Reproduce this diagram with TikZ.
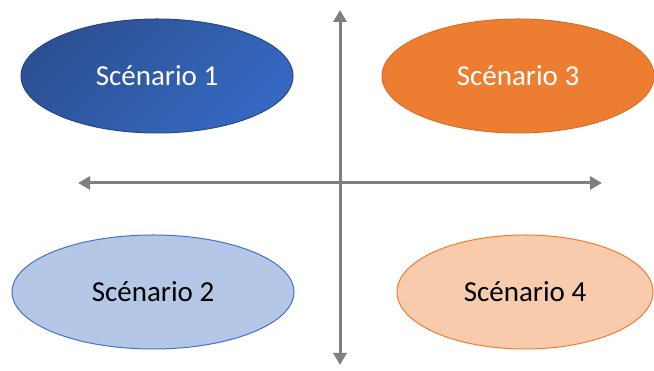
\documentclass[tikz,border=0pt]{standalone}
\usepackage{fontspec}
\setmainfont{Carlito}
\usetikzlibrary{arrows.meta,shapes.geometric}
\definecolor{darkblue}{HTML}{2C5193}
\definecolor{midblue}{HTML}{3668C2}
\definecolor{lightblue}{HTML}{B4C7E7}
\definecolor{lineblue}{HTML}{4472C4}
\definecolor{heavyorange}{HTML}{ED7D31}
\definecolor{lightorange}{HTML}{F8CBAD}
\definecolor{axisgray}{HTML}{7F7F7F}

\begin{document}
\begin{tikzpicture}[x=1pt, y=1pt,
  scenario/.style={ellipse, inner sep=0pt, line width=1pt,
    minimum width=272pt, minimum height=114pt,
    font=\fontsize{29}{34}\selectfont},
  axis/.style={draw=axisgray, line width=3pt,
    -{Triangle[length=12pt, width=13pt]}}]
  \useasboundingbox (0,0) rectangle (654,371);
  % upper scenarios
  \node[scenario, draw=darkblue!90!black, top color=darkblue,
    bottom color=midblue, shading angle=45, text=white]
    (s1) at (157,295) {Scénario 1};
  \node[scenario, draw=heavyorange!90!black, fill=heavyorange, text=white]
    (s3) at (518,295) {Scénario 3};
  % lower scenarios
  \node[scenario, draw=lineblue, fill=lightblue, minimum width=282pt]
    (s2) at (153,79) {Scénario 2};
  \node[scenario, draw=heavyorange, fill=lightorange, minimum width=256pt]
    (s4) at (525,79) {Scénario 4};
  % axes
  \coordinate (top) at (340,361);
  \coordinate (bottom) at (340,6);
  \coordinate (left) at (78,188);
  \coordinate (right) at (602,188);
  \coordinate (mid) at (340,188);
  \draw[axis] (mid) -- (top);
  \draw[axis] (mid) -- (bottom);
  \draw[axis] (mid) -- (left);
  \draw[axis] (mid) -- (right);
\end{tikzpicture}
\end{document}
